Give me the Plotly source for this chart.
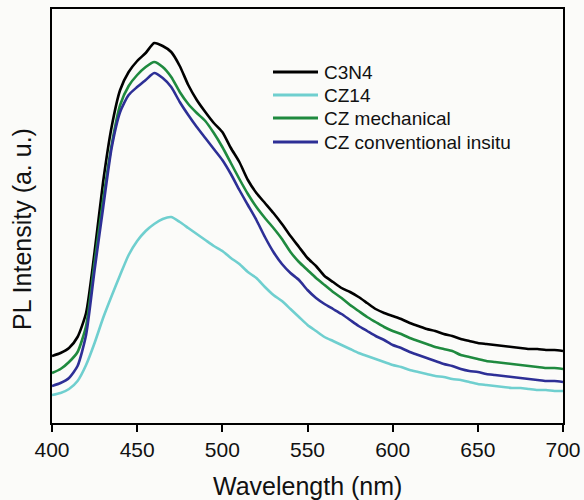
import plotly.graph_objects as go

wavelength = list(range(400, 701, 5))

c3n4 = [67, 70, 75, 86, 110, 171, 241, 296, 333, 351, 362, 370, 380, 377, 371, 357, 338, 323, 311, 300,
        291, 275, 261, 243, 230, 220, 210, 199, 187, 176, 165, 157, 147, 141, 135, 131, 126, 120, 114, 110,
        107, 104, 100, 97, 94, 92, 89, 87, 84, 82, 80, 79, 78, 77, 76, 75, 74, 74, 73, 73, 72]

cz14 = [28, 30, 34, 42, 58, 80, 105, 127, 148, 168, 182, 192, 199, 204, 206, 201, 195, 189, 183, 177,
        172, 165, 159, 151, 145, 136, 128, 122, 114, 106, 98, 92, 86, 82, 78, 74, 70, 67, 64, 61,
        58, 56, 53, 51, 49, 47, 46, 44, 43, 41, 39, 38, 37, 36, 35, 35, 34, 33, 33, 32, 32]

cz_mechanical = [50, 54, 61, 71, 97, 161, 223, 278, 318, 337, 348, 356, 361, 356, 346, 331, 319, 310, 302, 290,
                 276, 260, 244, 229, 216, 205, 195, 184, 171, 161, 153, 145, 138, 131, 125, 118, 112, 106, 101, 96,
                 92, 89, 85, 82, 79, 76, 74, 72, 68, 66, 64, 62, 61, 60, 59, 58, 57, 56, 55, 55, 54]

cz_conventional = [37, 40, 45, 57, 88, 153, 215, 275, 311, 328, 336, 343, 350, 345, 336, 321, 308, 296, 285, 274,
                   263, 249, 233, 218, 203, 186, 171, 159, 150, 143, 133, 125, 119, 114, 109, 103, 97, 92, 87, 83,
                   78, 75, 71, 68, 65, 62, 59, 57, 54, 52, 51, 49, 48, 47, 46, 45, 44, 43, 42, 42, 41]

series_names = ["C3N4", "CZ14", "CZ mechanical", "CZ conventional insitu"]
series_values = [c3n4, cz14, cz_mechanical, cz_conventional]
series_colors = ["#000000", "#6fcfcf", "#1f8a3f", "#2d2f96"]

x_ticks = [400, 450, 500, 550, 600, 650, 700]
x_title = "Wavelength (nm)"
y_title = "PL Intensity (a. u.)"

fig = go.Figure()
for name, vals, col in zip(series_names, series_values, series_colors):
    fig.add_trace(go.Scatter(x=wavelength, y=vals, mode="lines", name=name,
                             line=dict(color=col, width=2.6, shape="spline", smoothing=0.6),
                             showlegend=False))

# layout in pixels
L, T, W, H = 52, 9, 511, 414


def px(xp):
    return (xp - L) / W


def py(yp):
    return 1 - (yp - T) / H


# manual legend
leg_x0, leg_x1, leg_tx = 273, 318, 322
leg_rows = [72, 95, 118, 142]
for name, col, ry in zip(series_names, series_colors, leg_rows):
    fig.add_shape(type="line", xref="paper", yref="paper",
                  x0=px(leg_x0), x1=px(leg_x1), y0=py(ry), y1=py(ry),
                  line=dict(color=col, width=3))
    fig.add_annotation(xref="paper", yref="paper", x=px(leg_tx), y=py(ry),
                       xanchor="left", yanchor="middle", text=name, showarrow=False,
                       font=dict(size=19, color="#111111"))

# axis titles
fig.add_annotation(xref="paper", yref="paper", x=px(307.5), y=py(486),
                   xanchor="center", yanchor="middle", text=x_title, showarrow=False,
                   font=dict(size=25, color="#111111"))
fig.add_annotation(xref="paper", yref="paper", x=px(22), y=py(229),
                   xanchor="center", yanchor="middle", text=y_title, showarrow=False,
                   textangle=-90, font=dict(size=25, color="#111111"))

bg = "#fbfbf9"
fig.update_layout(
    width=584, height=500,
    margin=dict(l=L, r=584 - L - W, t=T, b=500 - T - H, autoexpand=False),
    paper_bgcolor=bg, plot_bgcolor=bg,
    font=dict(family="Liberation Sans, Arial, sans-serif", color="#111111"),
    showlegend=False,
)
fig.update_xaxes(range=[400, 700], tickvals=x_ticks, ticks="outside", ticklen=7, tickwidth=2,
                 tickcolor="black", showline=True, linecolor="black", linewidth=2, mirror=True,
                 showgrid=False, zeroline=False, tickfont=dict(size=21), automargin=False)
fig.update_yaxes(range=[0, 414], showticklabels=False, ticks="", showline=True, linecolor="black",
                 linewidth=2, mirror=True, showgrid=False, zeroline=False, automargin=False)

fig.write_html("out.html", config={"displayModeBar": False, "staticPlot": True},
               post_script="document.body.style.margin='0px';document.body.style.overflow='hidden';"
                           "document.body.style.background='" + bg + "';")
